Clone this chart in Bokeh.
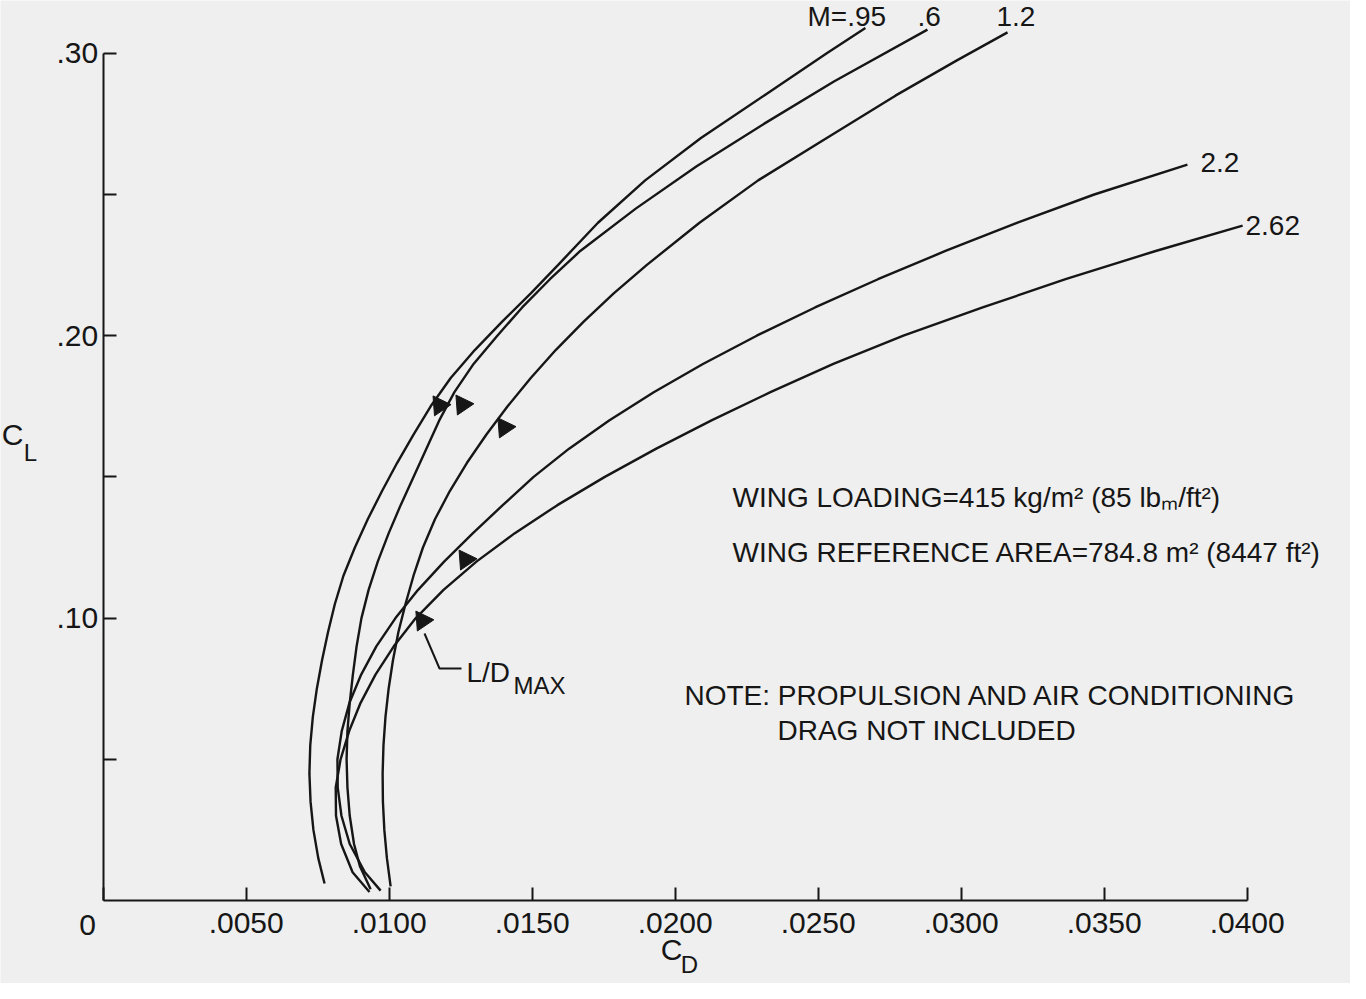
from bokeh.plotting import figure
from bokeh.models import Range1d, FixedTicker, CustomJSTickFormatter
from bokeh.core.properties import value
from bokeh.embed import file_html
from bokeh.resources import INLINE

# ---------------- data ----------------
mach_labels = ["M=.95", ".6", "1.2", "2.2", "2.62"]

cl_m095 = [0.006, 0.015, 0.025, 0.035, 0.045, 0.055, 0.065, 0.075, 0.085, 0.095,
           0.105, 0.115, 0.125, 0.135, 0.145, 0.155, 0.165, 0.175, 0.185, 0.195,
           0.205, 0.215, 0.225, 0.240, 0.255, 0.270, 0.285, 0.300, 0.309]
cd_m095 = [0.00774, 0.00752, 0.00735, 0.00725, 0.00721, 0.00724, 0.00733, 0.00747, 0.00765, 0.00786,
           0.00810, 0.00840, 0.00880, 0.00925, 0.00975, 0.01028, 0.01085, 0.01145, 0.01215, 0.01300,
           0.01395, 0.01495, 0.01590, 0.01730, 0.01895, 0.02090, 0.02310, 0.02530, 0.02665]

cl_m06 = [0.004, 0.012, 0.020, 0.030, 0.040, 0.050, 0.060, 0.070, 0.080, 0.090,
          0.100, 0.110, 0.120, 0.130, 0.140, 0.150, 0.160, 0.170, 0.180, 0.190,
          0.200, 0.210, 0.220, 0.230, 0.245, 0.260, 0.275, 0.290, 0.3084]
cd_m06 = [0.00935, 0.00898, 0.00877, 0.00862, 0.00854, 0.00851, 0.00854, 0.00862, 0.00873, 0.00886,
          0.00903, 0.00928, 0.00960, 0.00998, 0.01040, 0.01085, 0.01130, 0.01175, 0.01228, 0.01295,
          0.01378, 0.01465, 0.01562, 0.01668, 0.01862, 0.02075, 0.02310, 0.02555, 0.02882]

cl_m12 = [0.005, 0.015, 0.025, 0.035, 0.045, 0.055, 0.065, 0.075, 0.085, 0.095,
          0.105, 0.115, 0.125, 0.135, 0.145, 0.155, 0.165, 0.175, 0.185, 0.195,
          0.205, 0.215, 0.225, 0.240, 0.255, 0.270, 0.285, 0.2975, 0.3074]
cd_m12 = [0.01005, 0.00992, 0.00983, 0.00978, 0.00977, 0.00980, 0.00987, 0.00998, 0.01013, 0.01032,
          0.01057, 0.01085, 0.01118, 0.01160, 0.01212, 0.01272, 0.01340, 0.01414, 0.01495, 0.01583,
          0.01680, 0.01785, 0.01900, 0.02085, 0.02290, 0.02530, 0.02770, 0.02985, 0.03162]

cl_m22 = [0.0035, 0.010, 0.020, 0.030, 0.040, 0.050, 0.060, 0.070, 0.080, 0.090,
          0.100, 0.110, 0.120, 0.130, 0.140, 0.150, 0.160, 0.170, 0.180, 0.190,
          0.200, 0.210, 0.220, 0.230, 0.240, 0.250, 0.2606]
cd_m22 = [0.00970, 0.00915, 0.00862, 0.00833, 0.00820, 0.00819, 0.00834, 0.00861, 0.00902, 0.00955,
          0.01022, 0.01101, 0.01192, 0.01292, 0.01397, 0.01505, 0.01629, 0.01769, 0.01925, 0.02097,
          0.02285, 0.02489, 0.02709, 0.02945, 0.03197, 0.03465, 0.03791]

cl_m262 = [0.003, 0.010, 0.020, 0.030, 0.040, 0.050, 0.060, 0.070, 0.080, 0.090,
           0.100, 0.110, 0.120, 0.130, 0.140, 0.150, 0.160, 0.170, 0.180, 0.190,
           0.200, 0.210, 0.220, 0.230, 0.239]
cd_m262 = [0.00931, 0.00872, 0.00832, 0.00814, 0.00813, 0.00830, 0.00860, 0.00900, 0.00952, 0.01016,
           0.01093, 0.01190, 0.01305, 0.01438, 0.01588, 0.01754, 0.01934, 0.02127, 0.02333, 0.02553,
           0.02798, 0.03075, 0.03365, 0.03680, 0.03984]

# L/D max markers (one per Mach number)
ldmax_cd = [0.01176, 0.01256, 0.01403, 0.01267, 0.01116]
ldmax_cl = [0.1753, 0.1756, 0.1675, 0.1207, 0.0991]

x_ticks = [0.0, 0.005, 0.010, 0.015, 0.020, 0.025, 0.030, 0.035, 0.040]
y_ticks = [0.10, 0.20, 0.30]
y_minor_ticks = [0.05, 0.15, 0.25]

# ---------------- layout helpers (page pixel -> data) ----------------
PX_PER_CD = 143 / 0.005
PX_PER_CL = 282.4 / 0.1
def X(px):
    return (px - 110.7) / PX_PER_CD
def Y(py):
    return (908 - py) / PX_PER_CL

BG = "#efefef"
INK = "#161616"
FONT = "Liberation Sans"

W, H = 1350, 983
p = figure(width=W, height=H,
           x_range=Range1d(X(8), X(8 + W)), y_range=Range1d(Y(8 + H), Y(8)),
           output_backend="svg", toolbar_location=None,
           min_border_left=0, min_border_right=0, min_border_top=0, min_border_bottom=0,
           background_fill_color=BG, border_fill_color=BG, outline_line_color=None)
p.grid.visible = False

# axes (drawn at the data origin)
p.xaxis.fixed_location = 0
p.yaxis.fixed_location = 0
p.xaxis.ticker = FixedTicker(ticks=x_ticks)
p.yaxis.ticker = FixedTicker(ticks=y_ticks, minor_ticks=y_minor_ticks)
p.xaxis.formatter = CustomJSTickFormatter(code="""
if (Math.abs(tick) < 1e-9) { return ""; }
return "." + Math.round(tick * 10000).toString().padStart(4, "0");
""")
p.yaxis.formatter = CustomJSTickFormatter(code="""
return "." + Math.round(tick * 100).toString().padStart(2, "0");
""")
p.xaxis.bounds = (0, 0.04)
p.yaxis.bounds = (0, 0.30)
for ax in (p.xaxis, p.yaxis):
    ax.axis_line_color = INK
    ax.axis_line_width = 2
    ax.major_tick_line_color = INK
    ax.major_tick_line_width = 2
    ax.major_tick_in = 13
    ax.major_tick_out = 0
    ax.minor_tick_line_color = INK
    ax.minor_tick_line_width = 2
    ax.minor_tick_in = 13
    ax.minor_tick_out = 0
    ax.major_label_text_font = FONT
    ax.major_label_text_font_size = "30px"
    ax.major_label_text_color = INK
p.xaxis.minor_tick_line_color = None
p.xaxis.major_label_standoff = 12
p.yaxis.major_label_standoff = 5

# curves
curves = [(cd_m095, cl_m095), (cd_m06, cl_m06), (cd_m12, cl_m12),
          (cd_m22, cl_m22), (cd_m262, cl_m262)]
for cd, cl in curves:
    p.line(cd, cl, line_color=INK, line_width=2.4)

# L/D max markers
p.scatter(ldmax_cd, ldmax_cl, marker="inverted_triangle", size=20, angle=-0.45,
          fill_color=INK, line_color=INK)

# leader for L/D MAX
p.line([X(432), X(447), X(469)], [Y(641), Y(676), Y(676)], line_color=INK, line_width=2)

# Mach labels at curve ends
lab_x = [X(815), X(925), X(1004), X(1208), X(1253)]
lab_y = [Y(24), Y(24), Y(24), Y(170), Y(233)]
p.text(lab_x, lab_y, text=mach_labels, text_font=value(FONT), text_font_size="28px",
       text_color=INK, text_align="left", text_baseline="middle")

# notes
note_x = [X(740), X(740), X(692), X(785), X(474)]
note_y = [Y(505), Y(560), Y(703), Y(738), Y(680)]
note_t = ["WING LOADING=415 kg/m\u00b2 (85 lb\u2098/ft\u00b2)",
          "WING REFERENCE AREA=784.8 m\u00b2 (8447 ft\u00b2)",
          "NOTE: PROPULSION AND AIR CONDITIONING",
          "DRAG NOT INCLUDED",
          "L/D"]
p.text(note_x, note_y, text=note_t, text_font=value(FONT), text_font_size="28px",
       text_color=INK, text_align="left", text_baseline="middle")
p.text([X(521)], [Y(693)], text=["MAX"], text_font=value(FONT), text_font_size="24px",
       text_color=INK, text_align="left", text_baseline="middle")

# axis titles (C_L, C_D) and origin label
p.text([X(20), X(679), X(95)], [Y(442), Y(957), Y(932)], text=["C", "C", "0"],
       text_font=value(FONT), text_font_size="30px", text_color=INK,
       text_align="center", text_baseline="middle")
p.text([X(38), X(697)], [Y(460), Y(972)], text=["L", "D"],
       text_font=value(FONT), text_font_size="24px", text_color=INK,
       text_align="center", text_baseline="middle")

open("out.html", "w").write(file_html(p, INLINE))
